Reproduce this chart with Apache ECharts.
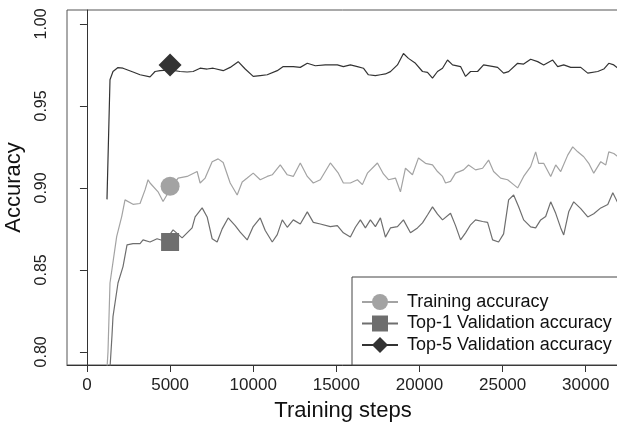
<!DOCTYPE html>
<html>
<head>
<meta charset="utf-8">
<title>Accuracy</title>
<script src="https://cdn.jsdelivr.net/npm/echarts@6/dist/echarts.min.js"></script>
<style>
    html, body {margin: 0; padding: 0; background: #fff;}
    #chart {width: 617px; height: 430px;}
</style>
</head>
<body>
<div id="chart"></div>
<script>
// 刻度
var xTicks = [0, 5000, 10000, 15000, 20000, 25000, 30000];
var yTicks = [0.80, 0.85, 0.90, 0.95, 1.00];

// Top-5 validation
var top5Steps = [1205, 1386, 1566, 1867, 2169, 2771, 3193, 3795, 4096, 4398, 5000, 5602, 6024, 6386, 6807,
    7229, 7590, 8193, 8614, 9096, 9518, 10000, 10422, 10843, 11446, 11807, 12410, 12831, 13253, 13735,
    14337, 15060, 15422, 15843, 16265, 16627, 16928, 17349, 17651, 17952, 18253, 18675, 19036, 19337,
    19759, 20181, 20482, 20783, 21084, 21386, 21687, 21988, 22470, 22771, 23072, 23494, 23855, 24458,
    24699, 25060, 25361, 25903, 26265, 26687, 27108, 27470, 28012, 28313, 28675, 29096, 29699, 30120,
    30723, 31084, 31386, 31687, 31928];
var top5Acc = [0.893, 0.966, 0.971, 0.9734, 0.973, 0.9707, 0.969, 0.9677, 0.971, 0.9715, 0.972, 0.971, 0.9707, 0.971, 0.973,
    0.9725, 0.973, 0.9715, 0.9735, 0.977, 0.9725, 0.968, 0.9685, 0.969, 0.9715, 0.974, 0.974, 0.9735, 0.976, 0.9745,
    0.975, 0.975, 0.974, 0.975, 0.974, 0.973, 0.969, 0.9685, 0.969, 0.9695, 0.9709, 0.975, 0.982, 0.979,
    0.976, 0.971, 0.9705, 0.967, 0.971, 0.973, 0.978, 0.975, 0.974, 0.968, 0.971, 0.971, 0.975, 0.974,
    0.9735, 0.970, 0.9709, 0.976, 0.9755, 0.9785, 0.977, 0.975, 0.978, 0.974, 0.975, 0.9735, 0.9735, 0.970,
    0.971, 0.9725, 0.976, 0.975, 0.973];

// Training
var trainSteps = [1145, 1265, 1386, 1787, 2090, 2289, 2771, 3193, 3494, 3675, 3795, 4277, 4578, 5000, 5482, 6024,
    6627, 6807, 7108, 7530, 7892, 8193, 8614, 9036, 9337, 9638, 10000, 10422, 10843, 11145, 11627,
    12048, 12410, 12831, 13253, 13614, 14036, 14639, 15120, 15422, 15843, 16265, 16566, 16867, 17470,
    17831, 18133, 18554, 18855, 19157, 19578, 19940, 20361, 20783, 21084, 21386, 21566, 21867, 22169,
    22651, 22952, 23373, 23795, 24157, 24458, 24880, 25301, 25663, 25903, 26265, 26687, 26988, 27169,
    27470, 27892, 28193, 28494, 28916, 29217, 29518, 29880, 30181, 30482, 30904, 31205, 31386, 31687, 31928];
var trainAcc = [0.78, 0.80, 0.842, 0.8703, 0.8825, 0.8927, 0.890, 0.8905, 0.8988, 0.905, 0.903, 0.8976, 0.8917, 0.899, 0.906, 0.907,
    0.910, 0.903, 0.906, 0.916, 0.9177, 0.9155, 0.903, 0.8957, 0.9036, 0.906, 0.909, 0.905, 0.907, 0.908, 0.914,
    0.908, 0.907, 0.9152, 0.907, 0.903, 0.905, 0.9152, 0.909, 0.903, 0.903, 0.905, 0.902, 0.909, 0.9152,
    0.9085, 0.905, 0.906, 0.8976, 0.912, 0.908, 0.9183, 0.915, 0.914, 0.910, 0.907, 0.903, 0.904, 0.909,
    0.911, 0.914, 0.911, 0.912, 0.917, 0.910, 0.906, 0.905, 0.902, 0.900, 0.907, 0.913, 0.922, 0.915,
    0.915, 0.907, 0.914, 0.910, 0.920, 0.925, 0.922, 0.919, 0.915, 0.909, 0.916, 0.914, 0.922, 0.921, 0.919];

// Top-1 validation
var top1Steps = [1325, 1506, 1566, 1867, 2169, 2410, 2771, 3193, 3373, 3795, 4217, 4699, 5181, 5723, 6325,
    6506, 6928, 7229, 7530, 7831, 8133, 8494, 8916, 9217, 9638, 10000, 10422, 10723, 11145, 11446,
    11747, 12048, 12410, 12831, 13253, 13614, 14036, 14639, 15060, 15422, 15843, 16145, 16446, 16747,
    17048, 17349, 17651, 17952, 18253, 18675, 19036, 19458, 19880, 20181, 20482, 20783, 21084, 21386,
    21867, 22169, 22470, 22771, 23072, 23373, 23795, 24096, 24398, 24759, 25060, 25361, 25663, 25964,
    26265, 26687, 26988, 27289, 27590, 27892, 28193, 28494, 28675, 28976, 29277, 29699, 30120, 30482,
    30904, 31325, 31627, 31928];
var top1Acc = [0.78, 0.81, 0.8215, 0.842, 0.852, 0.8653, 0.8660, 0.866, 0.8683, 0.867, 0.869, 0.8675, 0.8744, 0.8695, 0.8756,
    0.8823, 0.8878, 0.8823, 0.869, 0.867, 0.875, 0.8817, 0.877, 0.873, 0.8683, 0.8764, 0.8817, 0.874, 0.867, 0.8715,
    0.8805, 0.876, 0.8805, 0.878, 0.8854, 0.879, 0.878, 0.8764, 0.877, 0.8726, 0.870, 0.876, 0.8805, 0.8756,
    0.8805, 0.8764, 0.8817, 0.870, 0.8756, 0.8764, 0.8805, 0.8726, 0.8756, 0.8787, 0.8835, 0.8884, 0.884, 0.8805,
    0.8845, 0.877, 0.8683, 0.8726, 0.8775, 0.8805, 0.8795, 0.879, 0.8683, 0.867, 0.872, 0.8927, 0.8957, 0.8885,
    0.8805, 0.8762, 0.8756, 0.8805, 0.8826, 0.8915, 0.8845, 0.8756, 0.8713, 0.8854, 0.8915, 0.8874, 0.8823, 0.8842,
    0.8878, 0.8899, 0.897, 0.8909];

// 标记点位置
var markStep = 5000;
var markTrain = 0.901;
var markTop1 = 0.867;
var markTop5 = 0.975;

function pairs(xs, ys) {
    var out = [];
    for (var i = 0; i < xs.length; i++) {
        out.push([xs[i], ys[i]]);
    }
    return out;
}

var font = 'Liberation Sans';

function makeSeries(name, xs, ys, color, symbol, size, markY) {
    return {
        name: name,
        type: 'line',
        data: pairs(xs, ys),
        symbol: symbol,
        symbolSize: size,
        showSymbol: false,
        clip: true,
        lineStyle: {color: color, width: 1.2},
        itemStyle: {color: color},
        markPoint: {
            symbol: symbol,
            symbolSize: size,
            itemStyle: {color: color},
            label: {show: false},
            data: [{coord: [markStep, markY]}]
        }
    };
}

var chart = echarts.init(document.getElementById('chart'));
var option = {
    animation: false,
    backgroundColor: '#fff',
    textStyle: {fontFamily: font},
    grid: {
        left: 67,
        top: 10,
        right: -2,
        bottom: 65,
        containLabel: false,
        outerBoundsMode: 'none',
        show: true,
        borderColor: '#555',
        borderWidth: 1
    },
    xAxis: {
        type: 'value',
        min: -1200,
        max: 32000,
        name: 'Training steps',
        nameLocation: 'middle',
        nameGap: 35,
        nameTextStyle: {fontSize: 22, color: '#111', fontFamily: font},
        axisLine: {show: true, lineStyle: {color: '#333'}},
        axisTick: {show: true, customValues: xTicks, length: 7, lineStyle: {color: '#333'}},
        axisLabel: {
            customValues: xTicks,
            fontSize: 17,
            color: '#222',
            margin: 12,
            fontFamily: font,
            formatter: function (v) { return String(v); }
        },
        splitLine: {show: false}
    },
    yAxis: {
        type: 'value',
        min: 0.792,
        max: 1.0085,
        name: 'Accuracy',
        nameLocation: 'middle',
        nameGap: 42,
        nameTextStyle: {fontSize: 22, color: '#111', fontFamily: font},
        axisLine: {show: true, lineStyle: {color: '#333'}},
        axisTick: {show: true, customValues: yTicks, length: 7, lineStyle: {color: '#333'}},
        axisLabel: {
            customValues: yTicks,
            rotate: 90,
            fontSize: 16,
            color: '#222',
            margin: 17,
            fontFamily: font,
            formatter: function (v) { return v.toFixed(2); }
        },
        splitLine: {show: false}
    },
    legend: {
        orient: 'vertical',
        left: 356,
        top: 288,
        itemWidth: 36,
        itemHeight: 20,
        itemGap: 3.5,
        z: 10,
        textStyle: {fontSize: 18, color: '#111', fontFamily: font, padding: [0, 0, 0, 4]},
        data: ['Training accuracy', 'Top-1 Validation accuracy', 'Top-5 Validation accuracy']
    },
    graphic: [{
        type: 'rect',
        z: 5,
        shape: {x: 352, y: 277, width: 280, height: 88},
        style: {fill: '#fff', stroke: '#444', lineWidth: 1}
    }],
    series: [
        makeSeries('Training accuracy', trainSteps, trainAcc, '#a3a3a3', 'circle', 19, markTrain),
        makeSeries('Top-1 Validation accuracy', top1Steps, top1Acc, '#6e6e6e', 'rect', 18, markTop1),
        makeSeries('Top-5 Validation accuracy', top5Steps, top5Acc, '#333333', 'diamond', 23, markTop5)
    ]
};
chart.setOption(option);
window.onresize = function () {
    chart.resize();
};
</script>
</body>
</html>
